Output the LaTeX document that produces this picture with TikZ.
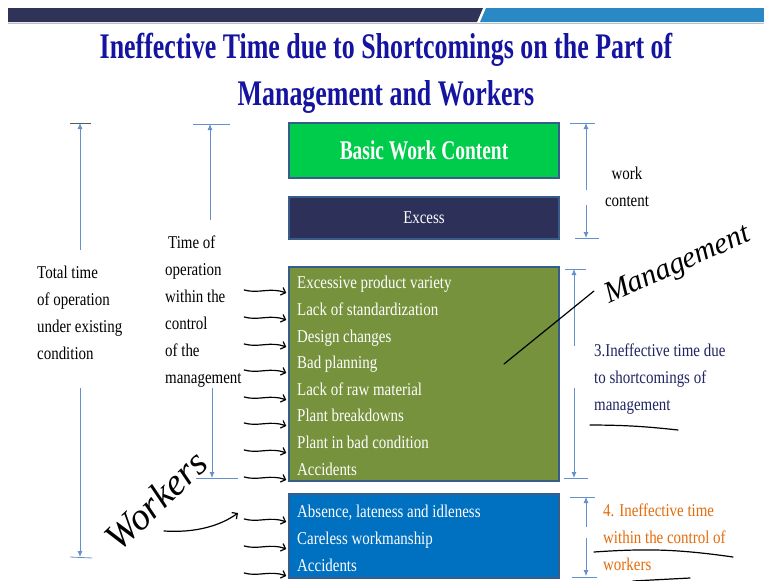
\documentclass[tikz,border=0pt]{standalone}
\usepackage{fontspec}
\setmainfont{Liberation Serif}
\newfontfamily\bodyf[FakeStretch=0.83]{Liberation Serif}
\newfontfamily\titlef[FakeStretch=0.72]{Liberation Serif}
\newfontfamily\handf{Liberation Serif}
\usetikzlibrary{arrows.meta}
\definecolor{hdark}{RGB}{46,51,87}
\definecolor{hblue}{RGB}{42,136,196}
\definecolor{titleblue}{RGB}{20,20,160}
\definecolor{bwcgreen}{RGB}{0,204,76}
\definecolor{excessnavy}{RGB}{45,48,88}
\definecolor{olive}{RGB}{118,146,60}
\definecolor{wblue}{RGB}{0,112,192}
\definecolor{boxedge}{RGB}{56,93,138}
\definecolor{dimblue}{RGB}{100,145,205}
\definecolor{navytext}{RGB}{32,36,96}
\definecolor{orangetext}{RGB}{228,108,10}
\tikzset{
  titletext/.style={text=titleblue, font=\titlef\bfseries\fontsize{36}{40}\selectfont, inner sep=0},
  boxnode/.style={draw=boxedge, line width=1.5pt, minimum width=270pt, inner sep=0, text=white},
  itemtext/.style={anchor=base west, inner sep=0, text=white, font=\bodyf\fontsize{18}{27}\selectfont},
  label/.style={anchor=north west, inner sep=0, align=left, font=\bodyf\fontsize{18}{27}\selectfont},
  dimline/.style={draw=dimblue, line width=0.8pt},
  dimarrow/.style={dimline, -{Latex[length=6pt,width=5pt]}},
  pen/.style={draw=black, line width=1.2pt, line cap=round},
  penarrow/.style={pen, -{Straight Barb[length=4pt,width=8pt]}},
  hand/.style={inner sep=0, font=\handf\itshape\fontsize{30}{30}\selectfont},
}
\begin{document}
\begin{tikzpicture}[x=1pt,y=-1pt]
\useasboundingbox[fill=white] (0,0) rectangle (764,581);
% header bar
\fill[hdark] (8,8) -- (483,8) -- (477,22) -- (8,22) -- cycle;
\fill[hblue] (486,8) -- (764,8) -- (764,22) -- (480,22) -- cycle;
\draw[black!25, line width=0.8pt] (8,23.5) -- (764,23.5);
% title
\node[titletext] (t1) at (386,50) {Ineffective Time due to Shortcomings on the Part of};
\node[titletext] (t2) at (386,97) {Management and Workers};
% boxes
\node[boxnode, fill=bwcgreen, minimum height=55pt, font=\titlef\bfseries\fontsize{27}{30}\selectfont] (bwc) at (424,150.5) {Basic Work Content};
\node[boxnode, fill=excessnavy, minimum height=42pt, font=\bodyf\fontsize{18}{27}\selectfont] (exc) at (424,218) {Excess};
\node[boxnode, fill=olive, minimum height=214pt] (mgmt) at (424,374) {};
\node[boxnode, fill=wblue, minimum height=84pt] (wrk) at (424,536) {};
% items
\node[itemtext] (m1) at (297,288) {Excessive product variety};
\node[itemtext] (m2) at (297,315) {Lack of standardization};
\node[itemtext] (m3) at (297,342) {Design changes};
\node[itemtext] (m4) at (297,368) {Bad planning};
\node[itemtext] (m5) at (297,395) {Lack of raw material};
\node[itemtext] (m6) at (297,421) {Plant breakdowns};
\node[itemtext] (m7) at (297,448) {Plant in bad condition};
\node[itemtext] (m8) at (297,475) {Accidents};
\node[itemtext] (w1) at (297,517) {Absence, lateness and idleness};
\node[itemtext] (w2) at (297,544) {Careless workmanship};
\node[itemtext] (w3) at (297,571) {Accidents};
% side labels
\node[label] (total) at (37,266) {Total time\\of operation\\under existing\\condition};
\node[label] (within) at (165,236) {\,Time of\\operation\\within the\\control\\of the\\management};
\node[label, align=center, anchor=north] (wc) at (627,167) {work\\content};
\node[label, text=navytext] (l3) at (594,344) {3.Ineffective time due\\to shortcomings of\\management};
\node[label, text=orangetext] (l4) at (603,504) {4. Ineffective time\\within the control of\\workers};
% dimension: total time
\coordinate (tt) at (80,123); \coordinate (tb) at (80,557);
\draw[black!65, line width=1pt] (70,123) -- (91,123);
\draw[dimarrow] (80,250) -- (tt);
\draw[dimarrow] (80,388) -- (tb);
\draw[dimline] (70,557) -- (92,558);
% dimension: within control of management
\coordinate (ct) at (210,124); \coordinate (cb) at (212,478);
\draw[dimline] (193,124) -- (230,124);
\draw[dimarrow] (210,220) -- (ct);
\draw[dimarrow] (212,388) -- (cb);
\draw[dimline] (196,478) -- (238,478);
% dimension: work content
\coordinate (wct) at (586,123); \coordinate (wcb) at (586,238);
\draw[dimline] (570,123) -- (595,123);
\draw[dimarrow] (586,190) -- (wct);
\draw[dimarrow] (586,205) -- (wcb);
\draw[dimline] (575,238) -- (599,238);
% dimension: management
\coordinate (mt) at (574,269); \coordinate (mb) at (574,478);
\draw[dimline] (565,269) -- (586,269);
\draw[dimarrow] (574,346) -- (mt);
\draw[dimarrow] (574,388) -- (mb);
\draw[dimline] (564,478) -- (588,478);
% dimension: workers
\coordinate (wt) at (586,497); \coordinate (wb) at (586,576);
\draw[dimline] (570,497) -- (595,497);
\draw[dimarrow] (586,527) -- (wt);
\draw[dimarrow] (586,538) -- (wb);
\draw[dimline] (572,577) -- (597,577);
% handwriting
\node[hand, rotate=24] (hm) at (678,266) {Management};
\node[hand, rotate=44, font=\handf\itshape\fontsize{38}{38}\selectfont] (hw) at (156,500) {Workers};
\coordinate (pm1) at (504,364); \coordinate (pm2) at (594,291);
\draw[pen] (pm1) -- (pm2);
\coordinate (u1a) at (590,425); \coordinate (u1b) at (678,430);
\draw[pen] (u1a) to[bend left=3] (u1b);
\coordinate (u2a) at (594,552); \coordinate (u2b) at (733,557);
\draw[pen] (u2a) to[bend left=6] (u2b);
\coordinate (u3a) at (633,581); \coordinate (u3b) at (690,578);
\draw[pen] (u3a) -- (u3b);
\coordinate (wa) at (164,531);
\draw[penarrow] (wa) .. controls (195,533) and (220,526) .. (238,513);
\foreach \n in {m1,m2,m3,m4,m5,m6,m7,m8,w1,w2,w3}{
  \coordinate (s\n) at ([xshift=-44pt,yshift=-2pt]mgmt.west |- \n.base);
  \draw[penarrow] (s\n) .. controls ([xshift=14pt,yshift=-4pt]s\n) and ([xshift=26pt,yshift=3pt]s\n) .. ([xshift=-2pt,yshift=-5pt]mgmt.west |- \n.base);
}
\end{tikzpicture}
\end{document}
